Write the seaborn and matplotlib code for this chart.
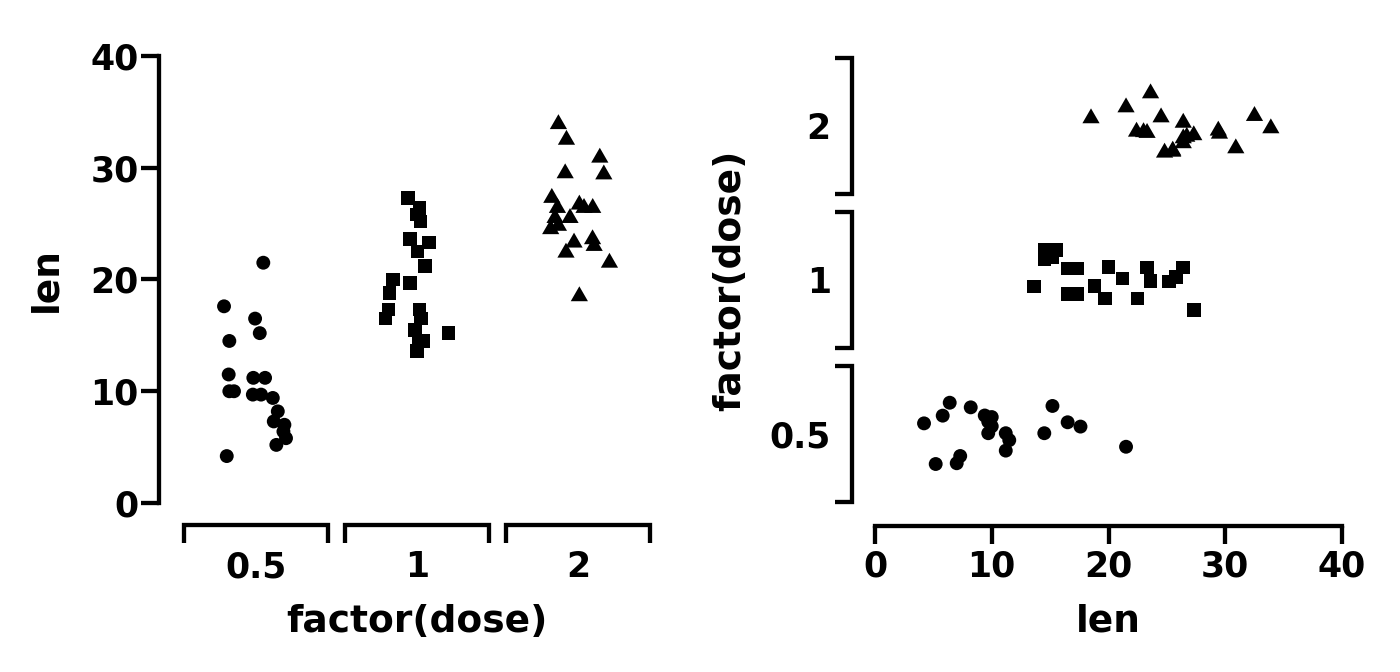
import matplotlib
matplotlib.use("Agg")
import matplotlib.pyplot as plt
import pandas as pd
import seaborn as sns

# ToothGrowth len values per dose, with jitter offsets
doses = ["0.5", "1", "2"]

len_05 = [21.5, 17.6, 16.5, 15.2, 14.5, 11.5, 11.2, 11.2, 10.0, 10.0,
          9.7, 9.7, 9.4, 8.2, 7.3, 7.0, 6.4, 5.8, 5.2, 4.2]
len_1 = [27.3, 26.4, 25.8, 25.2, 23.6, 23.3, 22.5, 21.2, 20.0, 19.7,
         18.8, 17.3, 17.3, 16.5, 16.5, 15.5, 15.2, 14.5, 14.5, 13.6]
len_2 = [33.9, 32.5, 30.9, 29.5, 29.4, 27.3, 26.7, 26.4, 26.4, 26.4,
         25.5, 25.5, 24.8, 24.5, 23.6, 23.3, 23.0, 22.4, 21.5, 18.5]

# horizontal jitter, left panel
jit_left_05 = [0.045, -0.199, -0.006, 0.023, -0.166, -0.17, -0.017, 0.056, -0.166, -0.137,
               -0.02, 0.031, 0.104, 0.135, 0.11, 0.176, 0.17, 0.186, 0.126, -0.182]
jit_left_1 = [-0.056, 0.014, -0.002, 0.02, -0.045, 0.075, 0.002, 0.048, -0.15, -0.045,
              -0.17, -0.177, 0.014, -0.195, 0.023, -0.012, 0.195, 0.01, 0.04, -0.002]
jit_left_2 = [-0.122, -0.072, 0.135, -0.08, 0.16, -0.163, 0.008, 0.037, 0.091, -0.128,
              -0.143, -0.05, -0.122, -0.17, 0.09, -0.025, 0.1, -0.075, 0.195, 0.008]

# vertical jitter, right panel
jit_right_05 = [-0.083, 0.048, 0.076, 0.182, 0.005, -0.04, 0.005, -0.108, 0.11, 0.05,
                0.005, 0.08, 0.12, 0.173, -0.143, -0.19, 0.203, 0.119, -0.195, 0.069]
jit_right_1 = [-0.195, 0.08, 0.021, -0.011, -0.006, 0.082, -0.119, 0.011, 0.086, -0.119,
               -0.039, 0.076, -0.09, 0.076, -0.09, 0.195, 0.15, 0.195, 0.136, -0.043]
jit_right_2 = [-0.015, 0.065, -0.145, -0.05, -0.03, -0.06, -0.07, 0.021, -0.112, -0.08,
               -0.167, -0.16, -0.173, 0.056, 0.212, -0.045, -0.04, -0.037, 0.121, 0.05]

rows = []
groups = zip(doses, [len_05, len_1, len_2],
             [jit_left_05, jit_left_1, jit_left_2],
             [jit_right_05, jit_right_1, jit_right_2])
for i, (d, vals, jl, jr) in enumerate(groups):
    for v, a, b in zip(vals, jl, jr):
        rows.append({"dose": d, "len": v, "pos_left": i + a, "pos_right": i + b})
df = pd.DataFrame(rows)

sns.set_theme(style="ticks")
plt.rcParams["font.family"] = ["DejaVu Sans"]
plt.rcParams["font.weight"] = "bold"
plt.rcParams["axes.labelweight"] = "bold"
for k in ["text.color", "axes.labelcolor", "xtick.color", "ytick.color",
          "xtick.labelcolor", "ytick.labelcolor", "axes.edgecolor"]:
    plt.rcParams[k] = "black"

tri = [(-1, -0.577), (1, -0.577), (0, 1.155)]
markers = {"0.5": "o", "1": "s", "2": tri}
sizes = {"0.5": 100, "1": 95, "2": 205}

LW = 3.1
TICK_FS = 25
LAB_FS = 27

fig = plt.figure(figsize=(14, 6.72), dpi=100)

# left panel: dose on x
ax1 = fig.add_axes([0.1139, 0.2182, 0.368, 0.7318])
sns.scatterplot(data=df, x="pos_left", y="len", style="dose", markers=markers,
                size="dose", sizes=sizes, color="black", linewidth=0,
                legend=False, ax=ax1)
ax1.set_xlim(-0.6, 2.6)
ax1.set_ylim(-2, 42)
ax1.set_xticks(range(3))
ax1.set_xticklabels(doses)
ax1.set_yticks([0, 10, 20, 30, 40])
for s in ["top", "right", "bottom"]:
    ax1.spines[s].set_visible(False)
ax1.spines["left"].set_bounds(0, 40)
ax1.spines["left"].set_linewidth(LW)
ax1.tick_params(axis="y", length=13, width=LW, labelsize=TICK_FS, pad=2)
ax1.tick_params(axis="x", length=0, labelsize=TICK_FS, pad=18)
ax1.set_xlabel("factor(dose)", fontsize=LAB_FS, labelpad=14)
ax1.set_ylabel("len", fontsize=LAB_FS, labelpad=19)

# bracket guide for the discrete x axis
tr = ax1.get_xaxis_transform()
leg = 18 / (0.7318 * 672)
for i in range(3):
    ax1.plot([i - 0.445, i - 0.445, i + 0.445, i + 0.445], [-leg, 0, 0, -leg],
             transform=tr, color="black", lw=LW, clip_on=False,
             solid_joinstyle="miter", solid_capstyle="butt")

# right panel: dose on y
ax2 = fig.add_axes([0.6083, 0.2167, 0.367, 0.7333])
sns.scatterplot(data=df, x="len", y="pos_right", style="dose", markers=markers,
                size="dose", sizes=sizes, color="black", linewidth=0,
                legend=False, ax=ax2)
ax2.set_xlim(-2, 42)
ax2.set_ylim(-0.6, 2.6)
ax2.set_yticks(range(3))
ax2.set_yticklabels(doses)
ax2.set_xticks([0, 10, 20, 30, 40])
for s in ["top", "right", "left"]:
    ax2.spines[s].set_visible(False)
ax2.spines["bottom"].set_bounds(0, 40)
ax2.spines["bottom"].set_linewidth(LW)
ax2.tick_params(axis="x", length=13, width=LW, labelsize=TICK_FS, pad=4)
ax2.tick_params(axis="y", length=0, labelsize=TICK_FS, pad=15)
ax2.set_xlabel("len", fontsize=LAB_FS, labelpad=14)
ax2.set_ylabel("factor(dose)", fontsize=LAB_FS, labelpad=15)

tr2 = ax2.get_yaxis_transform()
leg2 = 17 / (0.367 * 1400)
for j in range(3):
    ax2.plot([-leg2, 0, 0, -leg2], [j - 0.44, j - 0.44, j + 0.44, j + 0.44],
             transform=tr2, color="black", lw=LW, clip_on=False,
             solid_joinstyle="miter", solid_capstyle="butt")

fig.savefig("out.png", dpi=100)
